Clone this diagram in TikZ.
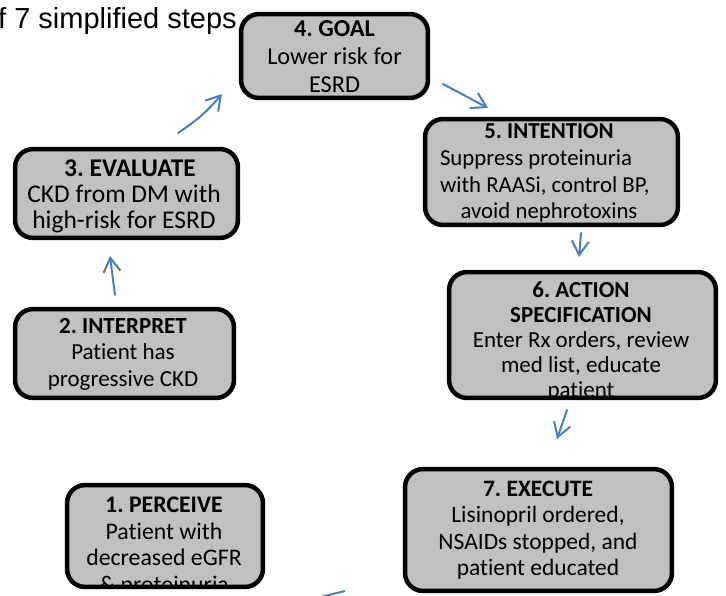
\documentclass[tikz,border=0pt]{standalone}
\usepackage{fontspec}
\setmainfont{Carlito}[Ligatures=NoCommon]
\newfontfamily\arialfont{Liberation Sans}
\usetikzlibrary{arrows.meta}
\definecolor{boxgray}{RGB}{192,192,192}
\definecolor{arrowblue}{RGB}{74,126,187}
\tikzset{
  boxfill/.style={rectangle, fill=boxgray, draw=none, rounded corners=18pt, inner sep=0pt},
  boxborder/.style={draw=black, line width=4.5pt, rounded corners=18pt},
  boxtext/.style={anchor=north, align=center, inner sep=0pt, font=\fontsize{23}{26.5}\selectfont},
  flow/.style={draw=arrowblue, line width=2pt, line cap=round, -{Straight Barb[length=14pt,width=17pt,line width=2pt]}},
}
\begin{document}
\frenchspacing
\begin{tikzpicture}[x=1pt,y=-1pt]
\clip (0,0) rectangle (726,595);
\useasboundingbox (0,0) rectangle (726,595);

\node[anchor=base west, inner sep=0pt, font=\arialfont\fontsize{29}{31}\selectfont] (title) at (-2,28) {f 7 simplified steps};

% 4 GOAL
\node[boxfill, minimum width=186.5pt, minimum height=83.5pt] (b4) at (334.5,56) {};
\begin{scope}
\clip[rounded corners=18pt] (b4.south west) rectangle (b4.north east);
\node[boxtext, font=\fontsize{24.3}{28}\selectfont] (t4) at (334.5,20.5) {\textbf{4. GOAL}\\Lower risk for\\ESRD};
\end{scope}
\draw[boxborder] (b4.south west) rectangle (b4.north east);

% 5 INTENTION
\node[boxfill, minimum width=252.5pt, minimum height=105.5pt] (b5) at (551.5,172) {};
\begin{scope}
\clip[rounded corners=18pt] (b5.south west) rectangle (b5.north east);
\node[boxtext, font=\fontsize{22.8}{26.7}\selectfont] (t5) at (549,123.5) {\textbf{5. INTENTION}\\\makebox[218pt][l]{Suppress proteinuria}\\\makebox[218pt][l]{with RAASi, control BP,}\\avoid nephrotoxins};
\end{scope}
\draw[boxborder] (b5.south west) rectangle (b5.north east);

% 3 EVALUATE
\node[boxfill, minimum width=222.5pt, minimum height=88.5pt] (b3) at (126.5,193.5) {};
\begin{scope}
\clip[rounded corners=18pt] (b3.south west) rectangle (b3.north east);
\node[boxtext, font=\fontsize{25.5}{26}\selectfont] (t3) at (124,160) {\hspace*{12pt}\textbf{3. EVALUATE}\\CKD from DM with\\high-risk for ESRD};
\end{scope}
\draw[boxborder] (b3.south west) rectangle (b3.north east);

% 2 INTERPRET
\node[boxfill, minimum width=218.5pt, minimum height=88.5pt] (b2) at (124.5,353.5) {};
\begin{scope}
\clip[rounded corners=18pt] (b2.south west) rectangle (b2.north east);
\node[boxtext] (t2) at (123,318) {\textbf{2. INTERPRET}\\Patient has\\progressive CKD};
\end{scope}
\draw[boxborder] (b2.south west) rectangle (b2.north east);

% 6 ACTION SPECIFICATION
\node[boxfill, minimum width=266.5pt, minimum height=125.5pt] (b6) at (582.5,335) {};
\begin{scope}
\clip[rounded corners=18pt] (b6.south west) rectangle (b6.north east);
\node[boxtext, font=\fontsize{23}{25}\selectfont] (t6) at (581,282) {\textbf{6. ACTION}\\\textbf{SPECIFICATION}\\Enter Rx orders, review\\med list, educate\\patient};
\end{scope}
\draw[boxborder] (b6.south west) rectangle (b6.north east);

% 7 EXECUTE
\node[boxfill, minimum width=266.5pt, minimum height=121.5pt] (b7) at (538.5,530) {};
\begin{scope}
\clip[rounded corners=18pt] (b7.south west) rectangle (b7.north east);
\node[boxtext, font=\fontsize{23.5}{26.3}\selectfont] (t7) at (538,481) {\textbf{7. EXECUTE}\\Lisinopril ordered,\\NSAIDs stopped, and\\patient educated};
\end{scope}
\draw[boxborder] (b7.south west) rectangle (b7.north east);

% 1 PERCEIVE
\node[boxfill, minimum width=195.5pt, minimum height=101.5pt] (b1) at (165,536) {};
\begin{scope}
\clip[rounded corners=18pt] (b1.south west) rectangle (b1.north east);
\node[boxtext, font=\fontsize{23.8}{26.5}\selectfont] (t1) at (164,497) {\textbf{1. PERCEIVE}\\Patient with\\decreased eGFR\\\&~proteinuria};
\end{scope}
\draw[boxborder] (b1.south west) rectangle (b1.north east);

% arrows
\coordinate (a23s) at (115,295);
\coordinate (a23e) at (110,256);
\coordinate (a34s) at (178,133);
\coordinate (a34e) at (222,94);
\coordinate (a45s) at (443,84);
\coordinate (a45e) at (488,108);
\coordinate (a56s) at (581,233);
\coordinate (a56e) at (579,257);
\coordinate (a67s) at (567,410);
\coordinate (a67e) at (557,439);
\coordinate (a71s) at (345,591);
\coordinate (a71e) at (300,602);

\draw[flow] (a23s) -- (a23e);
\draw[flow] (a34s) to[bend right=8] (a34e);
\draw[flow] (a45s) -- (a45e);
\draw[flow] (a56s) -- (a56e);
\draw[flow] (a67s) -- (a67e);
\draw[draw=arrowblue, line width=2pt] (a71s) -- (a71e);
\end{tikzpicture}
\end{document}
